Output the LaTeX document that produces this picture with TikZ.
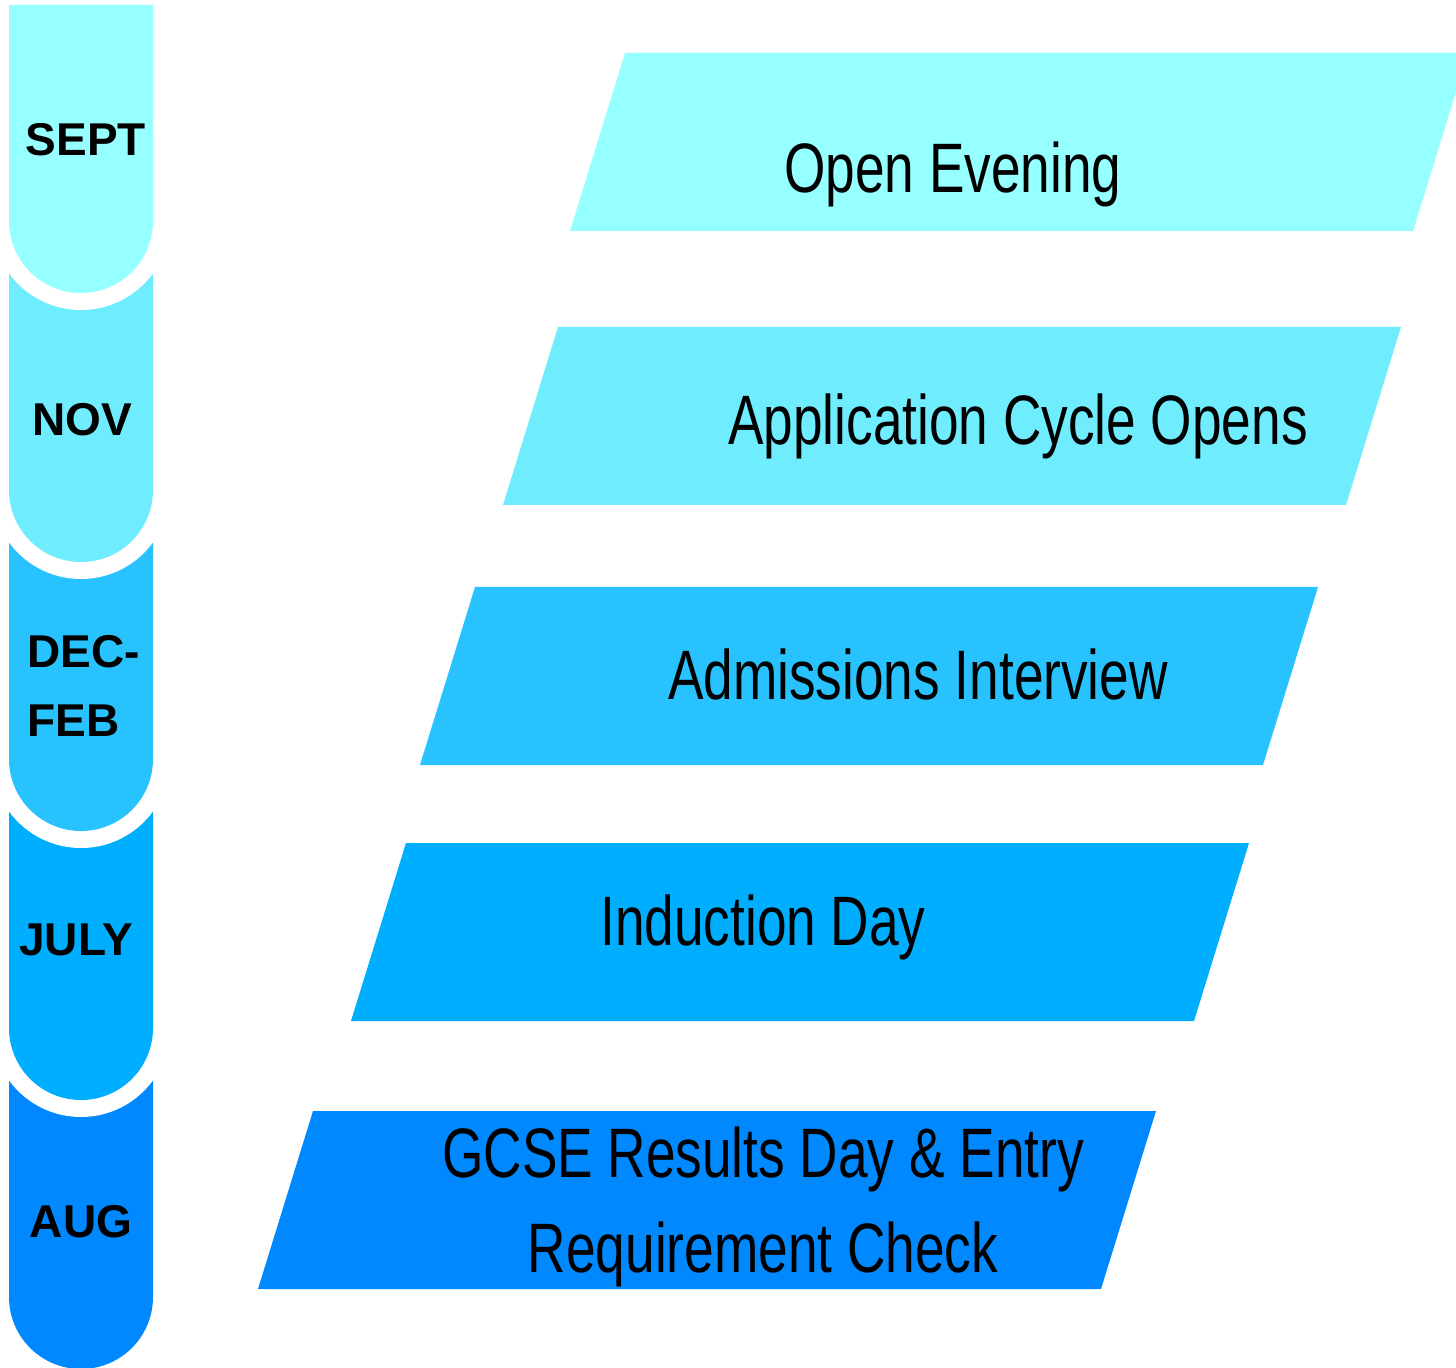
\documentclass[tikz,border=0pt]{standalone}
\usepackage{fontspec}
\setmainfont{Liberation Sans}
\newfontfamily\narrowfont[FakeStretch=0.76]{Liberation Sans}
\definecolor{sept}{HTML}{96FFFF}
\definecolor{nov}{HTML}{70ECFF}
\definecolor{decfeb}{HTML}{28C2FF}
\definecolor{july}{HTML}{00AEFF}
\definecolor{aug}{HTML}{0088FF}

\begin{document}
\begin{tikzpicture}
        [
          x=0.5pt, y=-0.5pt,
          gap/.style={draw=white, line width=17pt},
          month/.style={font=\bfseries\fontsize{23}{34.5}\selectfont, inner sep=0pt, align=left},
          event/.style={font=\narrowfont\fontsize{35}{47.5}\selectfont, inner sep=0pt, align=center}
        ]
        \useasboundingbox (0,0) rectangle (1456,1368);
        \clip (0,0) rectangle (1456,1368);

        % month tabs, lowest first so the upper ones overlap
        \foreach \i/\col in {5/aug,4/july,3/decfeb,2/nov,1/sept} {
          \pgfmathsetmacro{\top}{5+269*(\i-1)}
          \draw[gap] (9,\top) -- (9,\top+216) arc[start angle=180, end angle=0, radius=72] -- (153,\top) -- cycle;
          \fill[\col] (9,\top) -- (9,\top+216) arc[start angle=180, end angle=0, radius=72] -- (153,\top) -- cycle;
        }

        % event bars
        \foreach \tx/\ty/\col in {625/53/sept,558/327/nov,475/587/decfeb,406/843/july,313/1111/aug} {
          \fill[\col] (\tx,\ty) -- (\tx+843,\ty) -- (\tx+788,\ty+178) -- (\tx-55,\ty+178) -- cycle;
        }

        \node[month] (sept) at (86,140) {SEPT};
        \node[month] (nov) at (82,420) {NOV};
        \node[month, anchor=west] (decfeb) at (27,686) {DEC-\\FEB};
        \node[month] (july) at (76,940) {JULY};
        \node[month] (aug) at (81,1222) {AUG};

        \node[event, anchor=base] (open) at (953,193) {Open Evening};
        \node[event, anchor=base] (apply) at (1018,445) {Application Cycle Opens};
        \node[event, anchor=base] (interview) at (918,700) {Admissions Interview};
        \node[event, anchor=base] (induction) at (763,945) {Induction Day};
        \node[event] (results) at (763,1207) {GCSE Results Day \& Entry\\Requirement Check};
    \end{tikzpicture}
\end{document}
